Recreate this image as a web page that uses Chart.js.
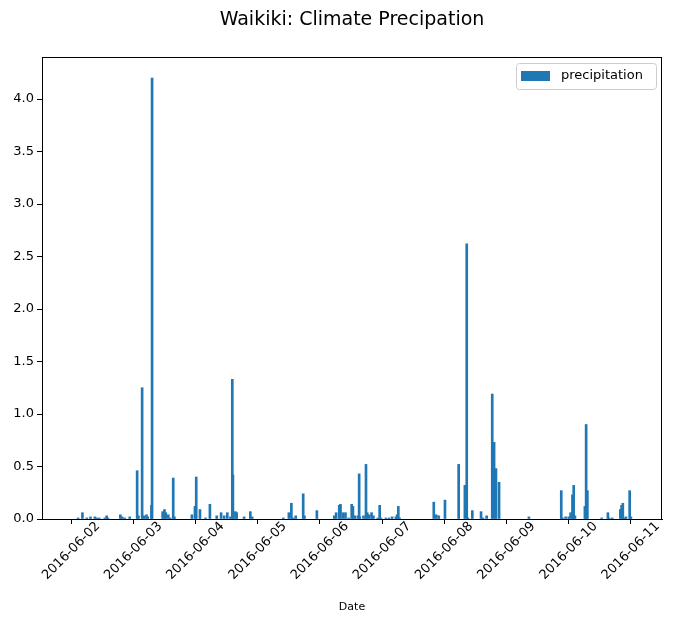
<!DOCTYPE html>
<html>
<head>
<meta charset="utf-8">
<script src="https://cdn.jsdelivr.net/npm/chart.js@4.4.0/dist/chart.umd.min.js"></script>
<style>
  html, body { margin: 0; padding: 0; background: #fff; }
  #wrap { width: 675px; height: 624px; }
</style>
</head>
<body>
<div id="wrap"><canvas id="precipChart"></canvas></div>
<script>
// day offsets from 2016-06-02 and precipitation (inches)
const dayOffsets = [0.11, 0.18, 0.25, 0.31, 0.38, 0.41, 0.45, 0.54, 0.57, 0.59, 0.79, 0.82, 0.86, 0.94,
  1.06, 1.08, 1.14, 1.17, 1.21, 1.23, 1.29, 1.30, 1.47, 1.50, 1.52, 1.56, 1.59, 1.64, 1.66,
  1.94, 1.99, 2.01, 2.07, 2.16, 2.23, 2.34, 2.41, 2.46, 2.51, 2.56, 2.59, 2.60, 2.64, 2.66, 2.78, 2.88, 2.91,
  3.41, 3.50, 3.54, 3.57, 3.61, 3.73, 3.75, 3.95,
  4.23, 4.26, 4.31, 4.33, 4.37, 4.41, 4.46, 4.51, 4.53, 4.56, 4.61, 4.63, 4.64, 4.70, 4.74, 4.76, 4.79, 4.83, 4.86, 4.93, 4.96, 4.98,
  5.06, 5.11, 5.16, 5.22, 5.24, 5.26, 5.28, 5.83, 5.87, 5.91,
  6.01, 6.23, 6.33, 6.36, 6.38, 6.45, 6.59, 6.62, 6.68, 6.77, 6.80, 6.83, 6.88,
  7.36, 7.88, 7.90, 7.95, 8.00, 8.03, 8.06, 8.08, 8.10, 8.26, 8.28, 8.30, 8.53, 8.63, 8.65, 8.70,
  8.83, 8.85, 8.87, 8.89, 8.92, 8.98, 9.00];
const precipitation = [0.01, 0.06, 0.01, 0.02, 0.02, 0.01, 0.01, 0.01, 0.03, 0.01, 0.04, 0.02, 0.01, 0.02,
  0.46, 0.03, 1.25, 0.03, 0.04, 0.02, 0.13, 4.20, 0.07, 0.09, 0.06, 0.04, 0.01, 0.39, 0.02,
  0.04, 0.12, 0.40, 0.09, 0.01, 0.14, 0.03, 0.06, 0.03, 0.06, 0.02, 1.33, 0.42, 0.07, 0.06, 0.02, 0.07, 0.02,
  0.01, 0.06, 0.15, 0.01, 0.03, 0.24, 0.03, 0.08,
  0.03, 0.06, 0.13, 0.14, 0.06, 0.06, 0.01, 0.14, 0.12, 0.03, 0.03, 0.43, 0.02, 0.03, 0.52, 0.06, 0.04, 0.06, 0.03, 0.01, 0.13, 0.01,
  0.01, 0.01, 0.02, 0.02, 0.04, 0.12, 0.01, 0.16, 0.04, 0.03,
  0.18, 0.52, 0.32, 2.62, 0.01, 0.08, 0.07, 0.01, 0.03, 1.19, 0.73, 0.48, 0.35,
  0.02, 0.27, 0.01, 0.02, 0.02, 0.06, 0.23, 0.32, 0.03, 0.12, 0.90, 0.27, 0.01, 0.06, 0.01, 0.01,
  0.09, 0.13, 0.15, 0.01, 0.02, 0.27, 0.02];
const tickLabels = ["2016-06-02", "2016-06-03", "2016-06-04", "2016-06-05", "2016-06-06",
  "2016-06-07", "2016-06-08", "2016-06-09", "2016-06-10", "2016-06-11"];
const yTicks = [0, 0.5, 1, 1.5, 2, 2.5, 3, 3.5, 4];

const barColor = "#1f77b4";
const font = "'DejaVu Sans', sans-serif";

const points = dayOffsets.map((d, i) => ({ x: d, y: precipitation[i] }));

const decorPlugin = {
  id: "decor",
  afterDraw(chart) {
    const c = chart.ctx;
    const a = chart.chartArea;
    const xs = chart.scales.x;
    c.save();
    // frame
    c.strokeStyle = "#000";
    c.lineWidth = 1;
    c.strokeRect(a.left + 0.5, a.top + 0.5, a.right - a.left - 1, a.bottom - a.top);
    // title
    c.fillStyle = "#000";
    c.textAlign = "center";
    c.textBaseline = "middle";
    c.font = "19px " + font;
    c.fillText("Waikiki: Climate Precipation", 352, 20);
    // rotated x labels
    c.font = "13px " + font;
    tickLabels.forEach((t, i) => {
      const x = xs.getPixelForValue(i);
      c.save();
      c.translate(x, a.bottom + 32);
      c.rotate(-Math.PI / 4);
      c.fillText(t, 0, 0);
      c.restore();
    });
    c.font = "11px " + font;
    c.fillText("Date", (a.left + a.right) / 2, 607);
    // legend
    c.fillStyle = "#fff";
    c.strokeStyle = "#ccc";
    c.beginPath();
    c.roundRect(516.5, 63.5, 140, 26, 3);
    c.fill();
    c.stroke();
    c.fillStyle = barColor;
    c.fillRect(521, 71, 29, 10);
    c.fillStyle = "#000";
    c.textAlign = "left";
    c.font = "13px " + font;
    c.fillText("precipitation", 561, 76);
    c.restore();
  }
};

new Chart(document.getElementById("precipChart"), {
  type: "bar",
  data: {
    datasets: [{
      label: "precipitation",
      data: points,
      backgroundColor: barColor,
      barThickness: 2,
      borderWidth: 0
    }]
  },
  options: {
    responsive: true,
    maintainAspectRatio: false,
    animation: false,
    layout: { padding: { top: 57, right: 13, bottom: 100, left: 0 } },
    plugins: { legend: { display: false }, tooltip: { enabled: false } },
    scales: {
      x: {
        type: "linear",
        offset: false,
        min: -0.47,
        max: 9.5,
        afterBuildTicks: s => { s.ticks = tickLabels.map((t, i) => ({ value: i })); },
        afterFit: s => { s.height = 5; },
        ticks: { display: false },
        grid: { drawOnChartArea: false, offset: false, tickColor: "#000", tickLength: 5 },
        border: { color: "#000" }
      },
      y: {
        min: 0,
        max: 4.4,
        afterBuildTicks: s => { s.ticks = yTicks.map(v => ({ value: v })); },
        afterFit: s => { s.width = 42; },
        ticks: {
          color: "#000",
          font: { family: font, size: 13 },
          padding: 3,
          callback: v => v.toFixed(1)
        },
        grid: { drawOnChartArea: false, tickColor: "#000", tickLength: 5 },
        border: { color: "#000" }
      }
    }
  },
  plugins: [decorPlugin]
});
</script>
</body>
</html>
